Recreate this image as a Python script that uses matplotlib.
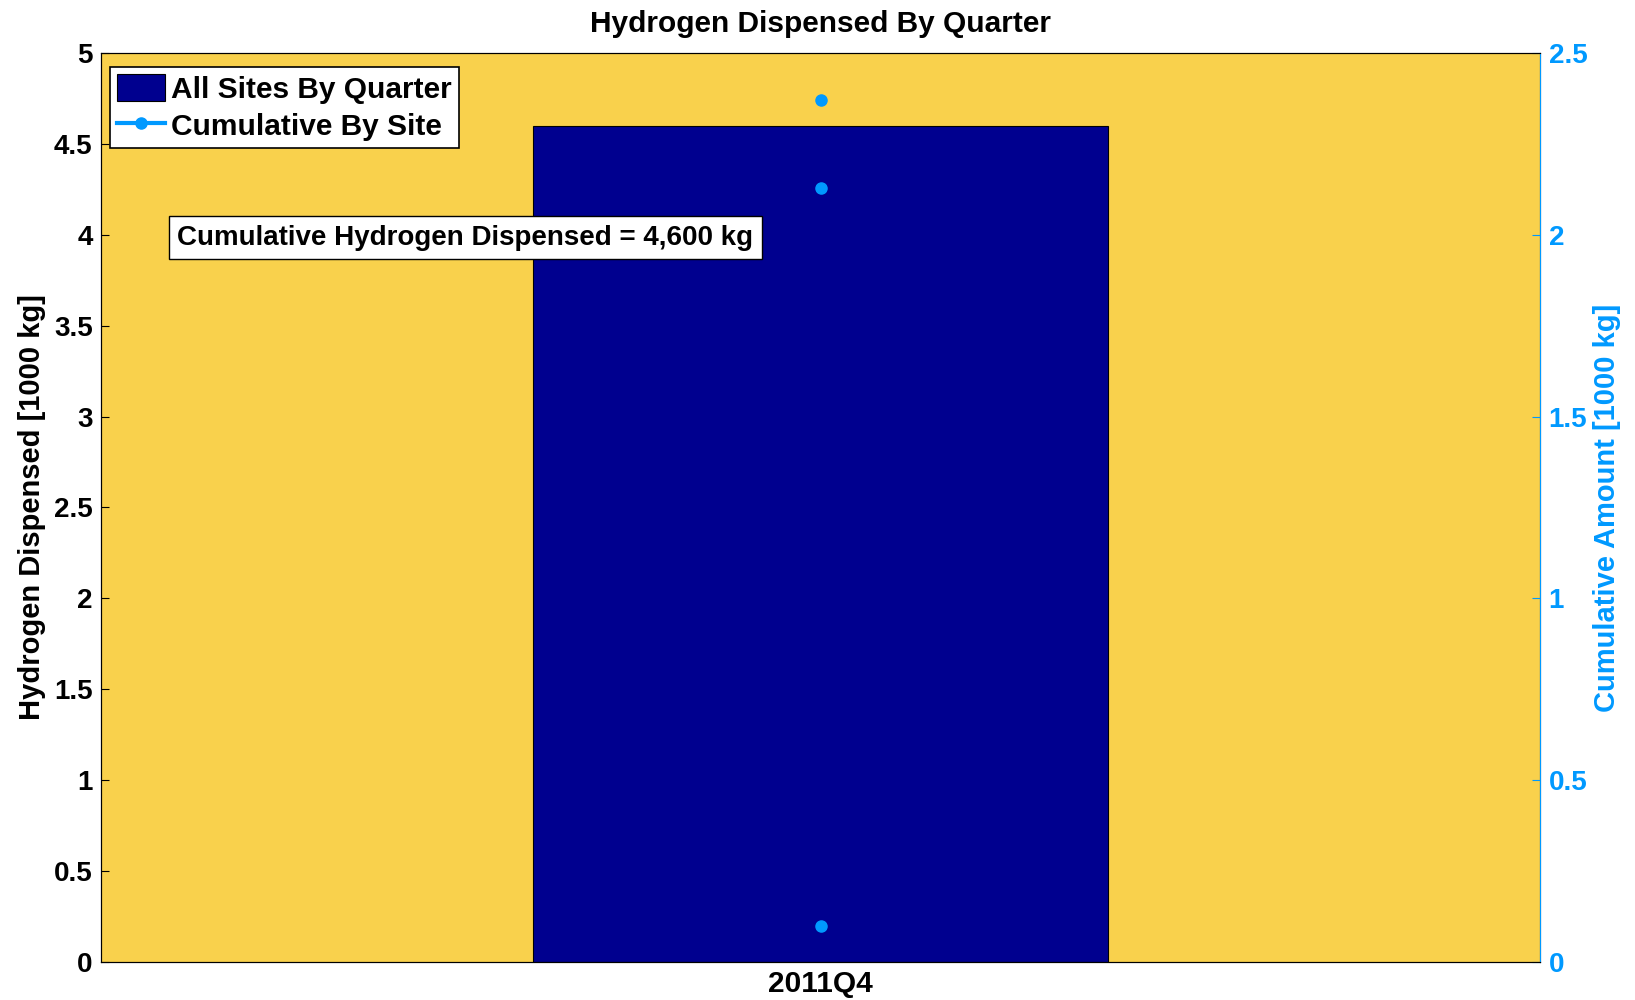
import numpy as np
import matplotlib.pyplot as plt
from matplotlib.lines import Line2D
from matplotlib.patches import Patch

plt.rcParams['font.family'] = ['Liberation Sans', 'DejaVu Sans']
plt.rcParams['font.weight'] = 'bold'
plt.rcParams['axes.titleweight'] = 'bold'
plt.rcParams['axes.labelweight'] = 'bold'

# data
quarters = ["2011Q4"]
dispensed = [4.6]                   # 1000 kg, all sites
site_cumulative = [2.37, 2.13, 0.10]  # 1000 kg, per site

BAR = "#00008F"
DOT = "#0099FF"
BG = "#F9D14C"

fig = plt.figure(figsize=(16.35, 10), dpi=100)
ax = fig.add_axes([0.0618, 0.038, 0.8802, 0.909])
ax.set_facecolor(BG)

x = np.arange(1, len(quarters) + 1)
ax.bar(x, dispensed, width=0.8, color=BAR, edgecolor="black", linewidth=0.8, zorder=2)
ax.set_xlim(0, 2)
ax.set_ylim(0, 5)
ax.set_yticks(np.arange(0, 5.01, 0.5))
ax.set_yticklabels([f"{v:g}" for v in np.arange(0, 5.01, 0.5)])
ax.set_xticks(x)
ax.set_xticklabels(quarters)
ax.tick_params(axis="y", direction="in", length=6, labelsize=20, pad=6)
ax.tick_params(axis="x", length=0, labelsize=21.5, pad=6)
ax.set_ylabel("Hydrogen Dispensed [1000 kg]", fontsize=21, labelpad=6)
ax.set_title("Hydrogen Dispensed By Quarter", fontsize=21.5, pad=15)

ax2 = ax.twinx()
ax2.plot([x[0]] * len(site_cumulative), site_cumulative, "o", color=DOT,
         markersize=8, zorder=3)
ax2.set_ylim(0, 2.5)
ax2.set_yticks(np.arange(0, 2.51, 0.5))
ax2.set_yticklabels([f"{v:g}" for v in np.arange(0, 2.51, 0.5)])
ax2.tick_params(axis="y", direction="in", length=6, labelsize=20, pad=6,
                colors=DOT)
ax2.spines["right"].set_color(DOT)
ax2.set_ylabel("Cumulative Amount [1000 kg]", fontsize=21, color=DOT, labelpad=4)

handles = [Patch(facecolor=BAR, edgecolor="black", linewidth=0.8),
           Line2D([0], [0], color=DOT, lw=3, marker="o", markersize=8)]
leg = ax2.legend(handles, ["All Sites By Quarter", "Cumulative By Site"],
                 loc="upper left", bbox_to_anchor=(0.0, 0.995),
                 fontsize=21.5, frameon=True, fancybox=False, framealpha=1,
                 edgecolor="black", handlelength=1.6, handletextpad=0.2,
                 borderpad=0.25, labelspacing=0.25, borderaxespad=0.3,
                 handleheight=1.0)
leg.get_frame().set_linewidth(1.2)

ax.text(0.053, 0.797, "Cumulative Hydrogen Dispensed = 4,600 kg",
        transform=ax.transAxes, fontsize=20, va="center", ha="left",
        bbox=dict(boxstyle="square,pad=0.3", facecolor="white",
                  edgecolor="black", linewidth=1.0), zorder=5)

fig.savefig("out.png", dpi=100)
